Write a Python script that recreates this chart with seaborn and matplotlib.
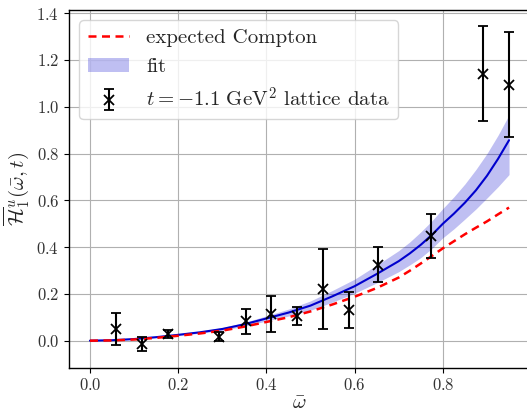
import matplotlib
matplotlib.use("Agg")
import matplotlib.pyplot as plt
import seaborn as sns
import pandas as pd

# Lattice data points: omega-bar, value and symmetric error
omega_pts = [0.058, 0.117, 0.177, 0.293, 0.353, 0.411, 0.470, 0.529, 0.587, 0.652, 0.774, 0.891, 0.950]
h_pts = [0.050, -0.015, 0.029, 0.017, 0.083, 0.114, 0.105, 0.221, 0.131, 0.325, 0.448, 1.142, 1.095]
h_err = [0.070, 0.031, 0.017, 0.020, 0.054, 0.078, 0.038, 0.170, 0.077, 0.076, 0.095, 0.202, 0.225]

# Curves sampled in omega-bar (denser where they bend most)
omega_curve = [0.00, 0.05, 0.10, 0.15, 0.20, 0.25, 0.30, 0.35, 0.40, 0.45,
               0.50, 0.55, 0.60, 0.65, 0.70, 0.725, 0.75, 0.775, 0.80, 0.825,
               0.85, 0.875, 0.90, 0.925, 0.95]
fit_central = [0.000, 0.002, 0.007, 0.015, 0.025, 0.036, 0.050, 0.070, 0.095, 0.120,
               0.150, 0.190, 0.233, 0.285, 0.340, 0.373, 0.410, 0.452, 0.500, 0.543,
               0.590, 0.643, 0.705, 0.777, 0.857]
fit_lower = [0.000, 0.0015, 0.006, 0.013, 0.022, 0.032, 0.044, 0.062, 0.084, 0.105,
             0.130, 0.165, 0.203, 0.247, 0.295, 0.324, 0.355, 0.394, 0.440, 0.478,
             0.520, 0.563, 0.610, 0.658, 0.710]
fit_upper = [0.000, 0.0025, 0.008, 0.017, 0.028, 0.040, 0.056, 0.078, 0.106, 0.135,
             0.170, 0.215, 0.263, 0.323, 0.385, 0.422, 0.465, 0.512, 0.565, 0.615,
             0.670, 0.732, 0.800, 0.878, 0.965]
compton = [0.000, 0.001, 0.005, 0.012, 0.021, 0.031, 0.043, 0.060, 0.080, 0.100,
           0.125, 0.155, 0.188, 0.225, 0.270, 0.299, 0.330, 0.362, 0.395, 0.425,
           0.455, 0.483, 0.510, 0.540, 0.569]

curves = pd.DataFrame({"omega": omega_curve, "fit": fit_central,
                       "lo": fit_lower, "hi": fit_upper, "compton": compton})

sns.set_style("ticks", {"axes.grid": True, "grid.color": "#b0b0b0",
                        "axes.edgecolor": "black"})
plt.rcParams.update({
    "font.family": "serif",
    "font.serif": ["cmr10"],
    "mathtext.fontset": "cm",
    "axes.formatter.use_mathtext": True,
    "axes.unicode_minus": True,
    "grid.linewidth": 0.8,
    "axes.linewidth": 1.0,
    "xtick.major.size": 3.5,
    "ytick.major.size": 3.5,
    "xtick.major.width": 0.8,
    "ytick.major.width": 0.8,
    "xtick.color": "black",
    "ytick.color": "black",
    "xtick.labelcolor": "#333333",
    "ytick.labelcolor": "#333333",
    "xtick.labelsize": 12,
    "ytick.labelsize": 12,
})

fig = plt.figure(figsize=(5.27, 4.13), dpi=100)
ax = fig.add_axes([69 / 527, 45.3 / 413, 461 / 527, 357.7 / 413])

sns.lineplot(data=curves, x="omega", y="compton", ax=ax, color="red",
             linestyle=(0, (3.2, 2.2)), linewidth=1.8, label="expected Compton",
             zorder=4)
ax.fill_between(curves["omega"], curves["lo"], curves["hi"],
                color="mediumblue", alpha=0.25, linewidth=0, label="fit", zorder=2)
sns.lineplot(data=curves, x="omega", y="fit", ax=ax, color="mediumblue",
             linewidth=1.5, zorder=3)
ax.errorbar(omega_pts, h_pts, yerr=h_err, fmt="x", color="black", ms=7,
            mew=1.3, elinewidth=1.5, capsize=3.5, capthick=1.5,
            label=r"$t=-1.1\ \mathrm{GeV}^2$ lattice data", zorder=5)

ax.set_xticks([0.0, 0.2, 0.4, 0.6, 0.8])
ax.set_yticks([0.0, 0.2, 0.4, 0.6, 0.8, 1.0, 1.2, 1.4])
ax.set_xlabel(r"$\bar{\omega}$", fontsize=15, labelpad=1)
ax.set_ylabel(r"$\overline{\mathcal{H}}_1^u(\bar{\omega},t)$", fontsize=15)
ax.grid(True, color="#b0b0b0", linewidth=0.8)
for side in ["top", "right", "left", "bottom"]:
    ax.spines[side].set_visible(True)

ax.legend(loc="upper left", fontsize=15, framealpha=0.8)

fig.savefig("out.png", dpi=100)
